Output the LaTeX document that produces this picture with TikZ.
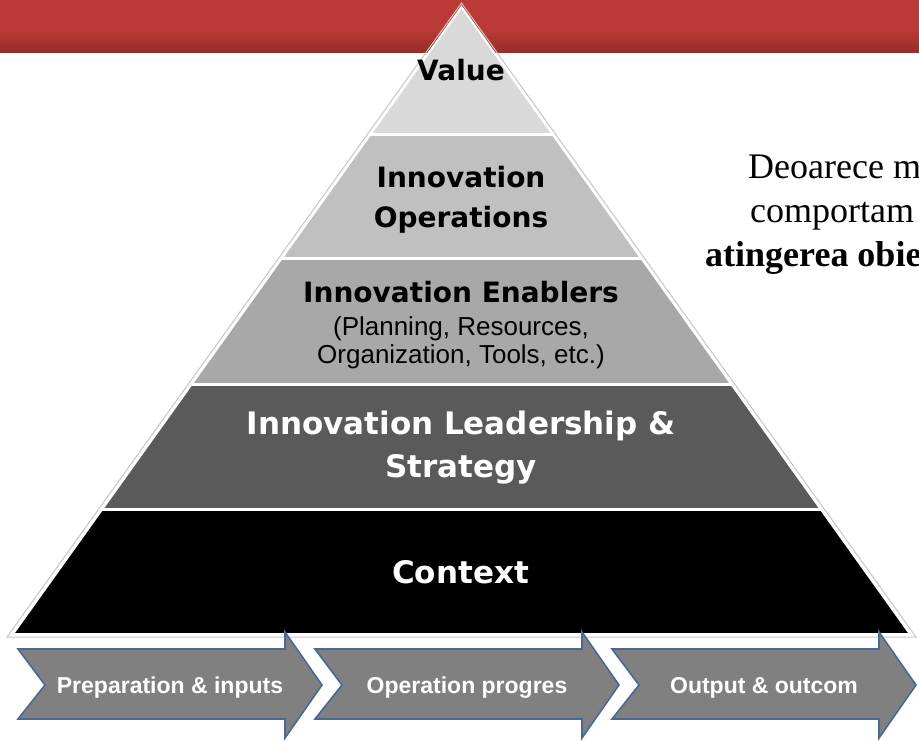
\documentclass[tikz,border=0pt]{standalone}
\usepackage{fontspec}
\setmainfont{Liberation Serif}
\setsansfont{Liberation Sans}
\newfontfamily\headfont{DejaVu Sans}
\usetikzlibrary{calc}

\definecolor{barred}{HTML}{B93A36}
\definecolor{bardark}{HTML}{952D2A}
\definecolor{valuegray}{HTML}{D9D9D9}
\definecolor{opsgray}{HTML}{C0C0C0}
\definecolor{enablegray}{HTML}{A8A8A8}
\definecolor{leadgray}{HTML}{5A5A5A}
\definecolor{chevfill}{HTML}{808080}
\definecolor{chevline}{HTML}{4A6894}

\tikzset{
  darkhead/.style={anchor=base, inner sep=0pt, text=black, font=\headfont\bfseries\fontsize{28}{32}\selectfont},
  lighthead/.style={anchor=base, inner sep=0pt, text=white, font=\headfont\bfseries\fontsize{31}{35}\selectfont},
  subtext/.style={anchor=base, inner sep=0pt, text=black, font=\sffamily\fontsize{26}{28}\selectfont},
  chevron/.style={fill=chevfill, draw=chevline, line width=1.6pt, line join=miter},
  chevlabel/.style={anchor=base, inner sep=0pt, text=white, font=\sffamily\bfseries\fontsize{23}{25}\selectfont},
  notetext/.style={anchor=base west, inner sep=0pt, font=\fontsize{36}{42}\selectfont}
}

\begin{document}
\begin{tikzpicture}[x=1pt, y=-1pt]
\useasboundingbox[fill=white] (0,0) rectangle (919,740);

% title bar
\fill[barred] (0,0) rectangle (919,30);
\shade[top color=barred, bottom color=bardark] (0,30) rectangle (919,52);

% pyramid
\coordinate (apex) at (461.5,7);
\coordinate (baseL) at (13,634);
\coordinate (baseR) at (910,634);
\draw[black!22, line width=1pt] ($(apex)+(0,-4)$) -- ($(baseL)+(-6,3)$) -- ($(baseR)+(6,3)$) -- cycle;
\begin{scope}
\clip (apex) -- (baseL) -- (baseR) -- cycle;
\fill[valuegray] (0,0) rectangle (919,134);
\fill[opsgray] (0,134) rectangle (919,258);
\fill[enablegray] (0,258) rectangle (919,384);
\fill[leadgray] (0,384) rectangle (919,509);
\fill[black] (0,509) rectangle (919,634);
\foreach \y in {134,258,384,509}
  \draw[white, line width=3pt] (0,\y) -- (919,\y);
\end{scope}
\draw[white, line width=2pt, line join=miter] (apex) -- (baseL) -- (baseR) -- cycle;

% layer labels
\node[darkhead] (value) at (461,80) {Value};

\node[darkhead] (ops1) at (461,187) {Innovation};
\node[darkhead] (ops2) at (461,227) {Operations};

\node[darkhead] (enab) at (461,302) {Innovation Enablers};
\node[subtext] (enab2) at (461,335) {(Planning, Resources,};
\node[subtext] (enab3) at (461,363) {Organization, Tools, etc.)};

\node[lighthead] (lead1) at (461,434) {Innovation Leadership \&};
\node[lighthead] (lead2) at (461,477) {Strategy};

\node[lighthead] (context) at (460.5,583) {Context};

% process chevrons
\foreach \x/\name/\txt in {18/prep/Preparation \& inputs, 315/oper/Operation progres, 612/outc/Output \& outcom} {
  \draw[chevron] (\x,649) -- ++(267,0) -- ++(0,-17) -- ++(37,53) -- ++(-37,53) -- ++(0,-19) -- ++(-267,0) -- ++(27,-34) -- cycle;
  \node[chevlabel] (\name) at (\x+152,693) {\txt};
}

% side note (cut off by the page edge)
\node[notetext] (note1) at (748,178) {Deoarece m};
\node[notetext] (note2) at (750,222) {comportam};
\node[notetext, font=\bfseries\fontsize{36}{42}\selectfont] (note3) at (705,266) {atingerea obie};

\end{tikzpicture}
\end{document}
